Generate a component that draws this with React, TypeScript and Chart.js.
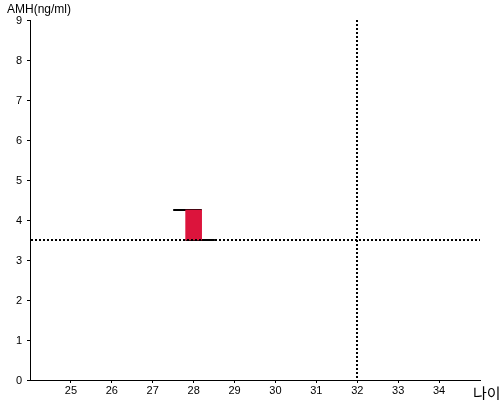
import React, { useEffect, useRef } from "react";
import { Chart, registerables } from "chart.js";

Chart.register(...registerables);

const xTickValues = [25, 26, 27, 28, 29, 30, 31, 32, 33, 34];
const barAge = [28];
const barLow = [3.5];
const barHigh = [4.25];
const highCapX = [27.5, 28.2];
const lowCapX = [27.8, 28.52];
const refAMH = 3.5;
const refAge = 32;
const yTitle = "AMH(ng/ml)";
const xTitle = "나이";

const overlay = {
  id: "overlay",
  afterDatasetsDraw(chart: any) {
    const { ctx, chartArea, scales } = chart;
    const x = scales.x;
    const y = scales.y;
    ctx.save();
    ctx.strokeStyle = "#000";
    ctx.lineWidth = 2;
    ctx.setLineDash([2, 2]);
    const py = Math.round(y.getPixelForValue(refAMH));
    ctx.beginPath();
    ctx.moveTo(chartArea.left + 1, py);
    ctx.lineTo(chartArea.right, py);
    ctx.stroke();
    const px = Math.round(x.getPixelForValue(refAge));
    ctx.beginPath();
    ctx.moveTo(px, chartArea.top);
    ctx.lineTo(px, chartArea.bottom);
    ctx.stroke();
    ctx.setLineDash([]);
    ctx.fillStyle = "#000";
    ctx.font = "12px Arial, 'Liberation Sans'";
    ctx.textBaseline = "top";
    ctx.textAlign = "left";
    ctx.fillText(yTitle, 7, 4);
    ctx.font = "15px 'Noto Sans CJK KR', sans-serif";
    ctx.textBaseline = "bottom";
    ctx.fillText(xTitle, 473, 401);
    ctx.restore();
  },
};

export default function App() {
  const ref = useRef<HTMLCanvasElement>(null);
  useEffect(() => {
    document.body.style.margin = "0";
    const chart = new Chart(ref.current as HTMLCanvasElement, {
      type: "bar",
      data: {
        datasets: [
          {
            type: "bar",
            data: barAge.map((a, i) => ({ x: a, y: [barLow[i], barHigh[i]] })) as any,
            backgroundColor: "#dc143c",
            borderWidth: 0,
            barThickness: 16,
          } as any,
          {
            type: "line",
            data: highCapX.map((v) => ({ x: v, y: barHigh[0] })),
            borderColor: "#000",
            borderWidth: 2,
            pointRadius: 0,
          } as any,
          {
            type: "line",
            data: lowCapX.map((v) => ({ x: v, y: barLow[0] })),
            borderColor: "#000",
            borderWidth: 2,
            pointRadius: 0,
          } as any,
        ],
      },
      options: {
        animation: false,
        responsive: false,
        layout: { padding: { top: 20, right: 20 } },
        plugins: { legend: { display: false }, tooltip: { enabled: false } },
        scales: {
          x: {
            type: "linear",
            min: 24,
            max: 35,
            offset: false,
            grid: { display: true, offset: false, drawOnChartArea: false, drawTicks: true, tickLength: 3, color: "#000" },
            border: { color: "#000", width: 1 },
            afterFit(s: any) {
              s.height = 20;
            },
            afterBuildTicks(s: any) {
              s.ticks = xTickValues.map((v) => ({ value: v }));
            },
            ticks: {
              color: "#000",
              font: { family: "Arial, 'Liberation Sans'", size: 11 },
              padding: 1,
              maxRotation: 0,
              autoSkip: false,
            },
          },
          y: {
            type: "linear",
            min: 0,
            max: 9,
            grid: { display: true, offset: false, drawOnChartArea: false, drawTicks: true, tickLength: 3, color: "#000" },
            border: { color: "#000", width: 1 },
            afterFit(s: any) {
              s.width = 30;
            },
            ticks: {
              stepSize: 1,
              color: "#000",
              font: { family: "Arial, 'Liberation Sans'", size: 11 },
              padding: 5,
              labelOffset: 1,
            },
          },
        },
      },
      plugins: [overlay],
    });
    return () => chart.destroy();
  }, []);
  return <canvas ref={ref} width={500} height={400} style={{ display: "block" }} />;
}
